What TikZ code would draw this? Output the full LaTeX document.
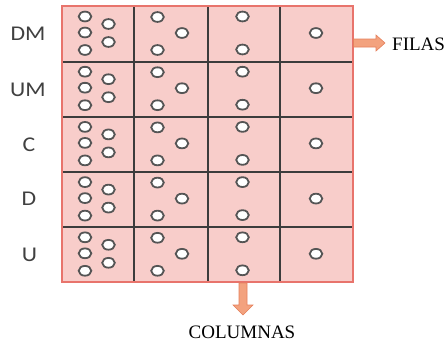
\documentclass[tikz,border=0pt]{standalone}
\usepackage{fontspec}
\setmainfont{Liberation Serif}
\newfontfamily\lblfont{Carlito}
\definecolor{cellpink}{HTML}{F8CDCA}
\definecolor{edgered}{HTML}{E8746C}
\definecolor{gridgray}{HTML}{3C3C3C}
\definecolor{arrowfill}{HTML}{F3A27E}
\definecolor{arrowedge}{HTML}{E5805C}
\definecolor{dotedge}{HTML}{555555}
\definecolor{lblgray}{HTML}{404040}
\begin{document}
\begin{tikzpicture}[x=1pt,y=-1pt,
  lbl/.style={font=\lblfont\fontsize{21}{21}\selectfont, text=lblgray, xscale=1.13, inner sep=0pt},
  caption/.style={font=\fontsize{19}{19}\selectfont, text=black, inner sep=0pt},
  dotshape/.style={fill=white, draw=dotedge, line width=1.8pt},
  blockarrow/.style={fill=arrowfill, draw=arrowedge, line width=0.6pt, line join=miter}]
\useasboundingbox (0,0) rectangle (447,343);
% grid background
\fill[cellpink] (62,6) rectangle (353,282);
% inner lines
\foreach \xx in {134,208,280} \draw[gridgray, line width=1.3pt] (\xx,6) -- (\xx,282);
\foreach \yy in {62,117,172,227} \draw[gridgray, line width=1.3pt] (62,\yy) -- (353,\yy);
% outer border
\draw[edgered, line width=1.6pt] (62,6) rectangle (353,282);
% dots
\foreach \yy in {6,61.2,116.4,171.6,226.8} {
  \foreach \dx/\dy in {23/10.5,23/26.5,23/44,46.5/18,46.5/36} \draw[dotshape] (62+\dx,\yy+\dy) ellipse (6.3 and 4.9);
  \foreach \dx/\dy in {23.5/11,48/27,23.5/44} \draw[dotshape] (134+\dx,\yy+\dy) ellipse (6.3 and 4.9);
  \foreach \dx/\dy in {34.5/10.5,34.5/43.5} \draw[dotshape] (208+\dx,\yy+\dy) ellipse (6.3 and 4.9);
  \draw[dotshape] (280+36,\yy+27) ellipse (6.3 and 4.9);
}
% row labels
\node[lbl] (dm) at (28,34) {DM};
\node[lbl] (um) at (28,89.5) {UM};
\node[lbl] (c) at (29,144.5) {C};
\node[lbl] (d) at (29,199) {D};
\node[lbl] (u) at (29.5,254.5) {U};
% captions
\node[caption, anchor=west] (filas) at (392,44) {FILAS};
\node[caption] (columnas) at (242,332) {COLUMNAS};
% block arrows
\draw[blockarrow] (353.5,39) -- (376,39) -- (376,35) -- (385,43) -- (376,51) -- (376,47) -- (353.5,47) -- cycle;
\draw[blockarrow] (239,283) -- (239,305) -- (233,305) -- (243,315) -- (253,305) -- (247,305) -- (247,283) -- cycle;
\end{tikzpicture}
\end{document}
